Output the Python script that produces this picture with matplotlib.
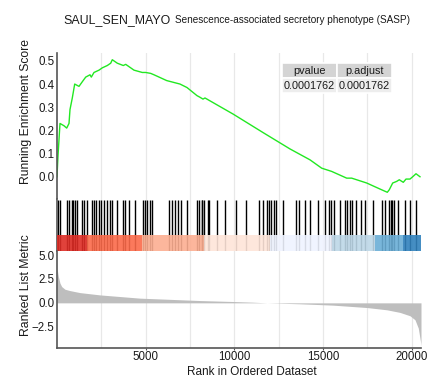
import numpy as np
import matplotlib
matplotlib.use("Agg")
import matplotlib.pyplot as plt
from matplotlib.patches import Rectangle

plt.rcParams['font.family'] = ['Liberation Sans', 'DejaVu Sans']

n_genes = 20530

# running enrichment score
es_rank = [0, 56, 169, 395, 547, 677, 733, 863, 998, 1241, 1427, 1619, 1861, 1935,
           2087, 2369, 2555, 2837, 3029, 3119, 3401, 3739, 3875, 4343, 4811, 5003,
           5285, 5471, 6187, 6937, 7332, 7896, 8065, 8234, 8347, 8573, 9943, 11635,
           13141, 14269, 14929, 15493, 16339, 16621, 17467, 18217, 18629, 18742,
           18934, 19159, 19306, 19531, 19684, 19909, 20061, 20248, 20473]
es_value = [0.0, 0.09, 0.23, 0.22, 0.21, 0.23, 0.29, 0.34, 0.40, 0.39, 0.41, 0.43, 0.44,
            0.43, 0.45, 0.46, 0.47, 0.48, 0.49, 0.505, 0.49, 0.48, 0.485, 0.46, 0.45,
            0.45, 0.446, 0.44, 0.415, 0.40, 0.385, 0.35, 0.343, 0.335, 0.34, 0.33, 0.27,
            0.19, 0.12, 0.073, 0.037, 0.023, -0.006, -0.006, -0.027, -0.053, -0.067,
            -0.056, -0.027, -0.02, -0.013, -0.024, -0.01, -0.01, 0.0, 0.013, 0.0]

# positions of the gene set members in the ranked list
hit_rank = [56, 169, 592, 677, 818, 902, 1015, 1100, 1410, 1523, 1692, 1946, 2059,
            2200, 2341, 2482, 2651, 2820, 2989, 3102, 3356, 3722, 3835, 4033, 4416,
            4850, 4980, 5076, 5273, 5358, 6300, 6486, 6655, 6824, 6994, 7349, 7896,
            8037, 8150, 8206, 8319, 8516, 8573, 9024, 9492, 10113, 10660, 11376,
            11601, 11827, 11940, 12087, 12222, 12369, 12729, 13508, 13621, 14004,
            14269, 14703, 15132, 15369, 15482, 15640, 15961, 16271, 16384, 16525,
            16638, 16864, 17129, 17371, 17806, 18313, 18499, 18725, 18838, 18922,
            19035, 19249, 19627, 19909, 20248]

# ranked list metric
metric_rank = [0, 17, 75, 169, 265, 451, 733, 1297, 2425, 3553, 4681, 6187, 8065,
               9926, 11054, 11844, 13705, 15566, 17484, 18612, 19345, 19909, 20191,
               20377, 20512, 20530]
metric_value = [3.5, 3.44, 2.75, 2.05, 1.70, 1.42, 1.28, 1.07, 0.83, 0.66, 0.49, 0.38,
                0.24, 0.14, 0.07, 0.0, -0.1, -0.24, -0.49, -0.73, -1.0, -1.35, -1.77,
                -2.64, -4.17, -4.5]

bar_edges = [0, 1709, 4794, 8274, 12013, 15510, 17952, 19531, 20530]
bar_colors = ["#DE2D26", "#FB6A4A", "#FCAE91", "#FEE5D9", "#EFF3FF", "#BDD7E7",
              "#6BAED6", "#3182BD"]

table_cols = ['pvalue', 'p.adjust']
table_vals = ['0.0001762', '0.0001762']

W, H = 443, 385
fig = plt.figure(figsize=(W / 100, H / 100), dpi=100)

def px_axes(x0, y0, x1, y1):
    return fig.add_axes([x0 / W, 1 - y1 / H, (x1 - x0) / W, (y1 - y0) / H])

ax1 = px_axes(57, 53, 421, 199)
ax2 = px_axes(57, 199, 421, 251)
ax3 = px_axes(57, 251, 421, 348)

spine_col = '#555555'
for ax in (ax1, ax2, ax3):
    ax.set_xlim(0, n_genes)
    ax.set_xticks([5000, 10000, 15000, 20000])
    ax.set_xticks(np.arange(2500, 20001, 5000), minor=True)
    ax.grid(True, which='both', axis='x', color='#E8E8E8', lw=0.9)
    ax.set_axisbelow(True)
    for s in ('top', 'right', 'bottom'):
        ax.spines[s].set_visible(False)
    ax.spines['left'].set_color(spine_col)
    ax.spines['left'].set_linewidth(1.2)
    ax.tick_params(axis='both', which='both', length=0, labelsize=8.3,
                   colors='#1a1a1a', pad=2)
    ax.tick_params(axis='both', which='both', color=spine_col)

# top panel: running ES
ax1.plot(es_rank, es_value, color='#22e822', lw=1.0)
ax1.set_ylim(-0.096, 0.534)
ax1.set_yticks([0.0, 0.1, 0.2, 0.3, 0.4, 0.5])
ax1.set_yticklabels(['0.0', '0.1', '0.2', '0.3', '0.4', '0.5'])
ax1.tick_params(axis='x', labelbottom=False)

tbl = ax1.table(cellText=[table_vals], colLabels=table_cols, cellLoc='center',
                bbox=[0.618, 0.724, 0.302, 0.208])
tbl.set_zorder(10)
tbl.auto_set_font_size(False)
for (r, c), cell in tbl.get_celld().items():
    cell.set_edgecolor('white')
    cell.set_linewidth(1.2)
    cell.set_facecolor('#D4D4D4' if r == 0 else '#EDEDED')
    cell.get_text().set_fontsize(7.8)
    cell.get_text().set_color('#1a1a1a')

# middle panel: hits and colour bar
ax2.set_ylim(0, 1)
ax2.vlines(hit_rank, 0, 0.98, color='black', lw=1.0)
for i in range(len(bar_colors)):
    ax2.add_patch(Rectangle((bar_edges[i], 0), bar_edges[i + 1] - bar_edges[i], 0.31,
                            facecolor=bar_colors[i], alpha=0.9, lw=0, zorder=3))
ax2.set_yticks([])
ax2.tick_params(axis='x', labelbottom=False)

# bottom panel: ranked list metric
ax3.fill_between(metric_rank, 0, metric_value, color='#BEBEBE', lw=0)
ax3.set_ylim(-4.72, 5.42)
ax3.set_yticks([-2.5, 0.0, 2.5, 5.0])
ax3.set_yticklabels(['\u22122.5', '0.0', '2.5', '5.0'])
ax3.spines['bottom'].set_visible(True)
ax3.spines['bottom'].set_color(spine_col)
ax3.spines['bottom'].set_linewidth(1.2)
ax3.tick_params(axis='x', length=1.5, pad=0.5)

fig.text(252 / W, 1 - 375 / H, 'Rank in Ordered Dataset', ha='center', va='baseline',
         fontsize=8.5, color='#1a1a1a')
fig.text(26 / W, 1 - 112 / H, 'Running Enrichment Score', rotation=90, ha='center',
         va='center', fontsize=8.7, color='#1a1a1a')
fig.text(26 / W, 1 - 285 / H, 'Ranked List Metric', rotation=90, ha='center',
         va='center', fontsize=8.8, color='#1a1a1a')

fig.text(63 / W, 1 - 23.3 / H, 'SAUL_SEN_MAYO', ha='left', va='baseline',
         fontsize=8.9, color='#1a1a1a')
fig.text(175 / W, 1 - 22.7 / H, 'Senescence-associated secretory phenotype (SASP)',
         ha='left', va='baseline', fontsize=7.2, color='#1a1a1a')

fig.savefig('out.png', dpi=100)
